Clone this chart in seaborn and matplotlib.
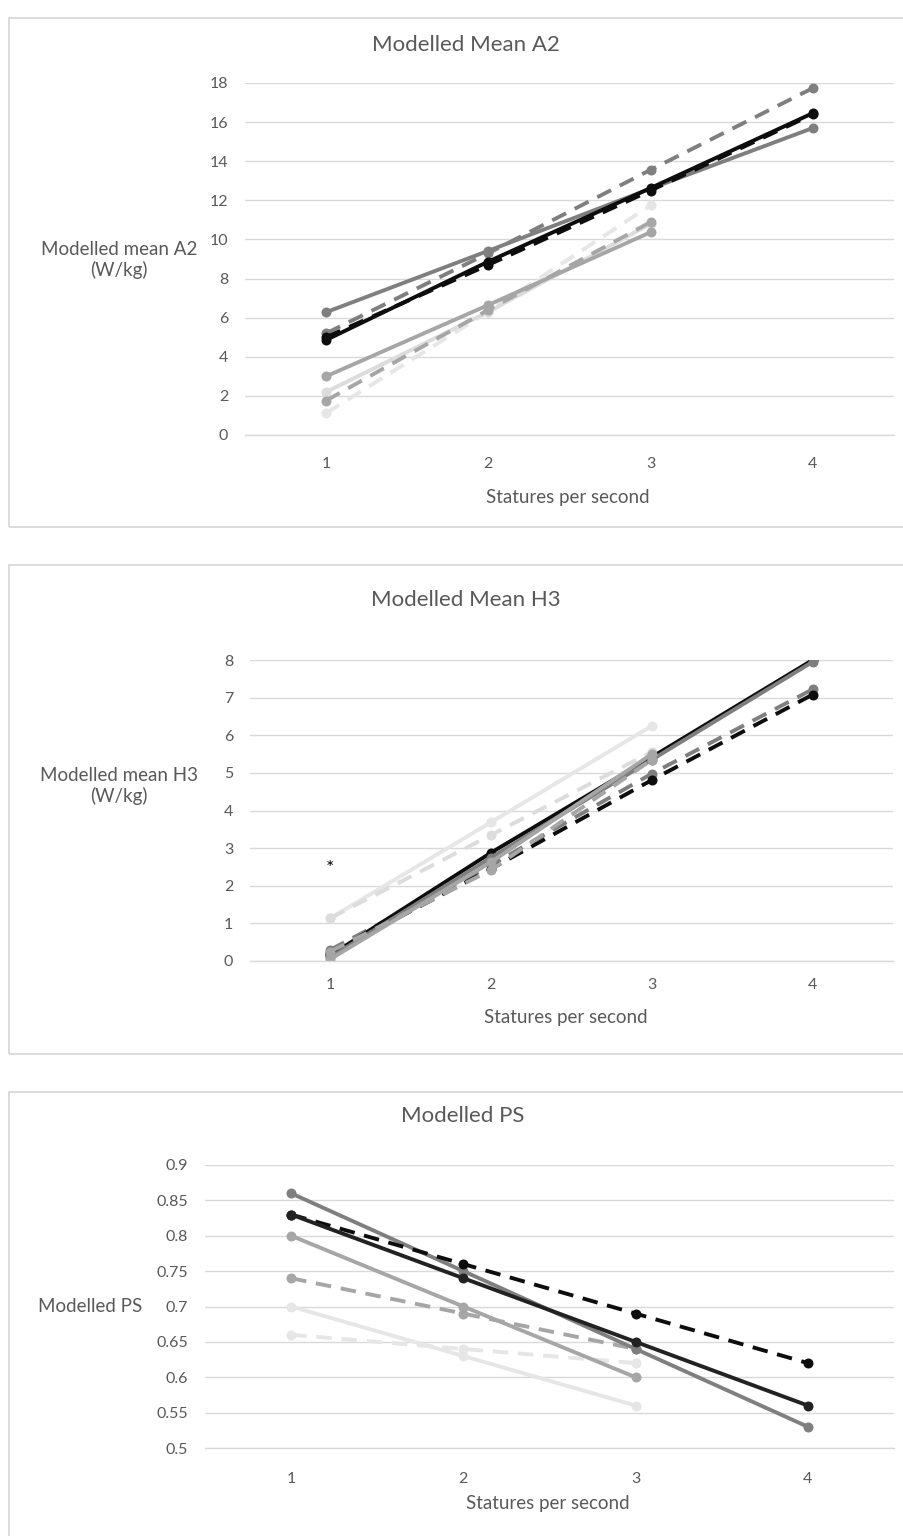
import matplotlib
matplotlib.use("Agg")
import matplotlib.pyplot as plt
from matplotlib.patches import Rectangle
import seaborn as sns
import pandas as pd

sns.set_theme(style="white")
plt.rcParams['font.family'] = ['Lato', 'DejaVu Sans']

# ---------------- data ----------------
x4 = [1, 2, 3, 4]
x3 = [1, 2, 3]
x_ticks = [1, 2, 3, 4]

# Panel 1: Modelled Mean A2
a2_darkgray_solid = [6.28, 9.42, 12.6, 15.7]
a2_darkgray_dash = [5.2, 9.3, 13.56, 17.74]
a2_black_solid = [4.86, 8.87, 12.63, 16.46]
a2_black_dash = [5.0, 8.7, 12.5, 16.4]
a2_midgray_solid = [3.0, 6.65, 10.37]
a2_midgray_dash = [1.76, 6.4, 10.89]
a2_light_solid = [2.2, 6.3, 10.8]
a2_light_dash = [1.12, 6.31, 11.74]

# Panel 2: Modelled Mean H3
h3_darkgray_solid = [0.1, 2.75, 5.35, 7.95]
h3_darkgray_dash = [0.3, 2.55, 4.98, 7.22]
h3_black_solid = [0.15, 2.88, 5.42, 8.0]
h3_black_dash = [0.2, 2.45, 4.81, 7.08]
h3_midgray_solid = [0.05, 2.63, 5.5]
h3_midgray_dash = [0.25, 2.42, 5.35]
h3_light_solid = [1.14, 3.69, 6.25]
h3_light_dash = [1.14, 3.35, 5.56]

# Panel 3: Modelled PS
ps_darkgray_solid = [0.86, 0.75, 0.64, 0.53]
ps_black_solid = [0.83, 0.74, 0.65, 0.56]
ps_black_dash = [0.83, 0.76, 0.69, 0.62]
ps_midgray_solid = [0.80, 0.70, 0.60]
ps_midgray_dash = [0.74, 0.69, 0.64]
ps_light_solid = [0.70, 0.63, 0.56]
ps_light_dash = [0.66, 0.64, 0.62]

titles = ["Modelled Mean A2", "Modelled Mean H3", "Modelled PS"]
ylabels = ["Modelled mean A2\n(W/kg)", "Modelled mean H3\n(W/kg)", "Modelled PS"]
xlabel = "Statures per second"

# ---------------- styles ----------------
C_BLACK = "#0d0d0d"
C_DARK = "#7f7f7f"
C_MID = "#a6a6a6"
C_LIGHT = "#dcdcdc"
C_LIGHT2 = "#e6e6e6"
SOLID = "-"
DASH = (0, (4.0, 2.5))
TXT = "#595959"
GRID = "#d9d9d9"

W, H = 904, 1536
fig = plt.figure(figsize=(W / 100, H / 100), dpi=100)


def add_ax(left, right, top, bottom):
    return fig.add_axes([left / W, 1 - bottom / H, (right - left) / W, (bottom - top) / H])


def draw(ax, series):
    for xs, ys, col, ls in series:
        df = pd.DataFrame({"x": xs, "y": ys})
        sns.lineplot(data=df, x="x", y="y", ax=ax, color=col, linestyle=ls,
                     linewidth=2.8, marker="o", markersize=7.2,
                     markeredgewidth=0, markeredgecolor=col, legend=False,
                     sort=False, errorbar=None)


def style_ax(ax, ylim, yticks, fmt, xpad):
    ax.set_xlim(0.5, 4.5)
    ax.set_ylim(*ylim)
    ax.set_yticks(yticks)
    ax.set_yticklabels([fmt(v) for v in yticks])
    ax.set_xticks(x_ticks)
    ax.set_xticklabels([str(v) for v in x_ticks])
    ax.grid(axis="y", color=GRID, linewidth=1.0)
    ax.grid(axis="x", visible=False)
    ax.set_axisbelow(True)
    for s in ["top", "right", "left"]:
        ax.spines[s].set_visible(False)
    ax.spines["bottom"].set_color(GRID)
    ax.spines["bottom"].set_linewidth(1.0)
    ax.tick_params(axis="both", length=0, colors=TXT, labelsize=11.5)
    ax.tick_params(axis="y", pad=12)
    ax.tick_params(axis="x", pad=xpad)
    ax.set_xlabel("")
    ax.set_ylabel("")
    ax.patch.set_alpha(0)


# panel frames
for (t, b) in [(18, 527), (565, 1054), (1092, 1560)]:
    fig.patches.append(Rectangle((9 / W, 1 - b / H), (W + 20 - 9) / W, (b - t) / H,
                                 transform=fig.transFigure, fill=False,
                                 edgecolor=GRID, linewidth=1.3))

# ----- Panel 1 -----
ax1 = add_ax(245, 894, 83, 435)
draw(ax1, [
    (x3, a2_light_dash, C_LIGHT2, DASH),
    (x3, a2_light_solid, C_LIGHT, SOLID),
    (x3, a2_midgray_dash, C_MID, DASH),
    (x3, a2_midgray_solid, C_MID, SOLID),
    (x4, a2_darkgray_solid, C_DARK, SOLID),
    (x4, a2_darkgray_dash, C_DARK, DASH),
    (x4, a2_black_dash, C_BLACK, DASH),
    (x4, a2_black_solid, C_BLACK, SOLID),
])
style_ax(ax1, (0, 18), list(range(0, 19, 2)), lambda v: f"{v:g}", 16)

# ----- Panel 2 -----
ax2 = add_ax(250, 893, 660, 961)
draw(ax2, [
    (x3, h3_light_solid, C_LIGHT2, SOLID),
    (x3, h3_light_dash, C_LIGHT, DASH),
    (x4, h3_darkgray_dash, C_DARK, DASH),
    (x4, h3_black_dash, C_BLACK, DASH),
    (x4, h3_black_solid, C_BLACK, SOLID),
    (x4, h3_darkgray_solid, C_DARK, SOLID),
    (x3, h3_midgray_dash, C_MID, DASH),
    (x3, h3_midgray_solid, C_MID, SOLID),
])
style_ax(ax2, (0, 8), list(range(0, 9)), lambda v: f"{v:g}", 12)
ax2.text(1, 2.45, "*", ha="center", va="center", fontsize=14, color="#000000")

# ----- Panel 3 -----
ax3 = add_ax(205, 894, 1165, 1448)
draw(ax3, [
    (x3, ps_light_dash, C_LIGHT2, DASH),
    (x3, ps_light_solid, C_LIGHT2, SOLID),
    (x3, ps_midgray_dash, C_MID, DASH),
    (x3, ps_midgray_solid, C_MID, SOLID),
    (x4, ps_darkgray_solid, C_DARK, SOLID),
    (x4, ps_black_dash, C_BLACK, DASH),
    (x4, ps_black_solid, "#222222", SOLID),
])
yt3 = [0.5, 0.55, 0.6, 0.65, 0.7, 0.75, 0.8, 0.85, 0.9]
style_ax(ax3, (0.5, 0.9), yt3, lambda v: f"{v:g}", 17)

# ----- texts -----
def ftext(x, y, s, **kw):
    fig.text(x / W, 1 - y / H, s, color=TXT, **kw)

ftext(466, 45, titles[0], ha="center", va="center", fontsize=16)
ftext(466, 600, titles[1], ha="center", va="center", fontsize=16)
ftext(463, 1116, titles[2], ha="center", va="center", fontsize=16)

ftext(119, 260, ylabels[0], ha="center", va="center", fontsize=13.5, linespacing=1.2)
ftext(119, 786, ylabels[1], ha="center", va="center", fontsize=13.5, linespacing=1.2)
ftext(90, 1306, ylabels[2], ha="center", va="center", fontsize=13.5)

ftext(568, 497, xlabel, ha="center", va="center", fontsize=13.5)
ftext(566, 1017, xlabel, ha="center", va="center", fontsize=13.5)
ftext(548, 1504, xlabel, ha="center", va="center", fontsize=13.5)

fig.savefig("out.png", dpi=100, facecolor="white")
